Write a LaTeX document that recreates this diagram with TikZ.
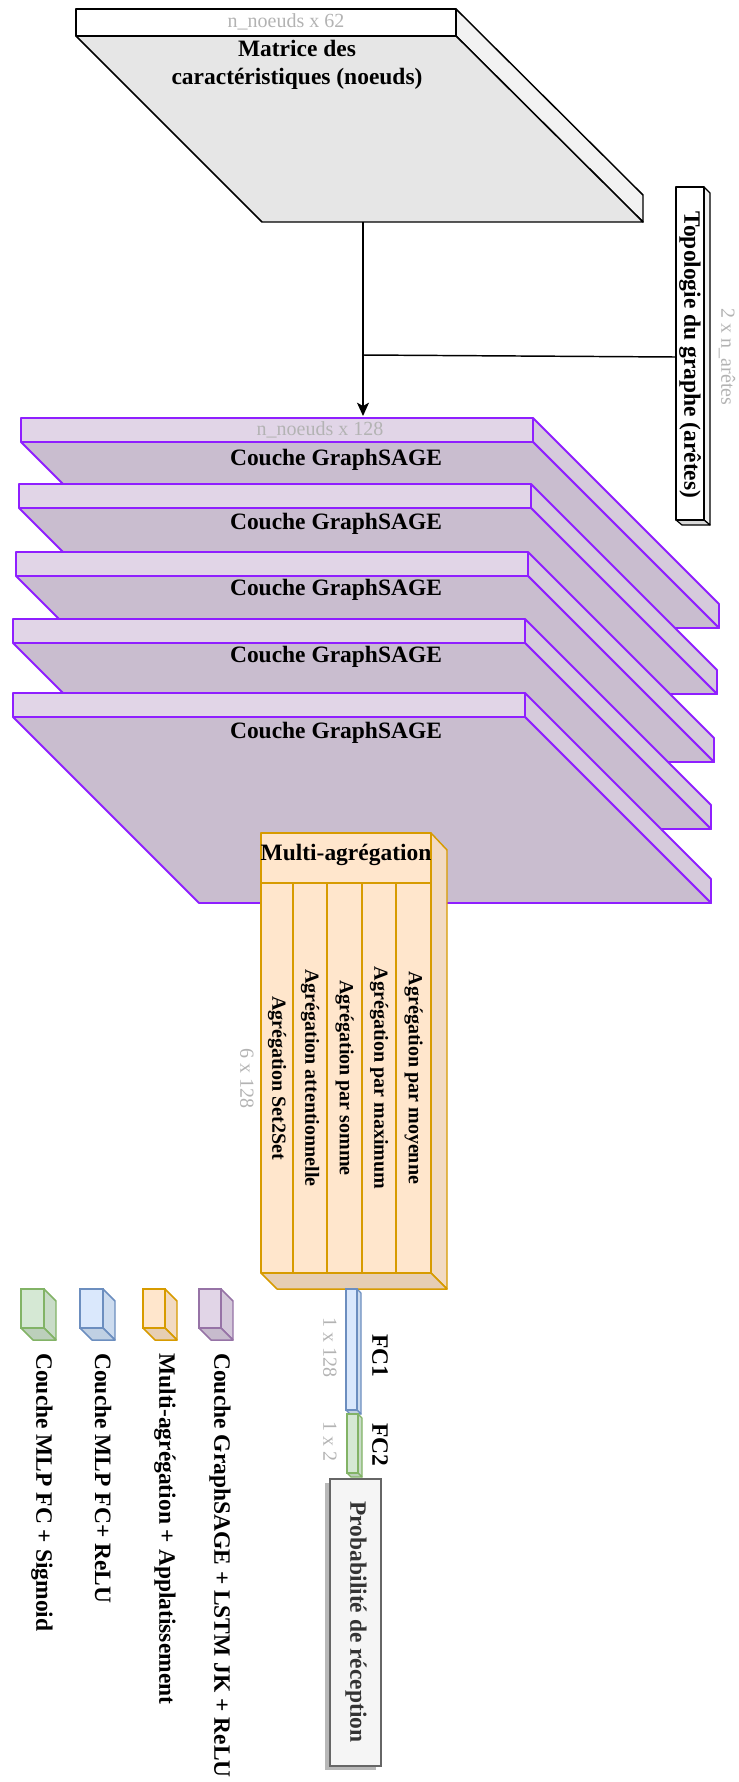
\documentclass[tikz,border=0pt]{standalone}
\usepackage{fontspec}
\setmainfont{Liberation Serif}
\usetikzlibrary{arrows.meta}
\definecolor{lbl}{HTML}{B3B3B3}
\definecolor{matF}{HTML}{E6E6E6}
\definecolor{matS}{HTML}{F2F2F2}
\definecolor{matB}{HTML}{D9D9D9}
\definecolor{gsT}{HTML}{E1D5E7}
\definecolor{gsF}{HTML}{C9BDCF}
\definecolor{gsS}{HTML}{D6CADC}
\definecolor{gsD}{HTML}{8F1FFF}
\definecolor{purF}{HTML}{E1D5E7}
\definecolor{purS}{HTML}{D4C8DA}
\definecolor{purB}{HTML}{C7BBCD}
\definecolor{purD}{HTML}{9673A6}
\definecolor{orF}{HTML}{FFE6CC}
\definecolor{orS}{HTML}{F2DAC2}
\definecolor{orB}{HTML}{E6CEB4}
\definecolor{orD}{HTML}{D79B00}
\definecolor{blF}{HTML}{DAE8FC}
\definecolor{blS}{HTML}{CDDCEF}
\definecolor{blB}{HTML}{C0D0E3}
\definecolor{blD}{HTML}{6C8EBF}
\definecolor{grF}{HTML}{D5E8D4}
\definecolor{grS}{HTML}{C9DCC8}
\definecolor{grB}{HTML}{BCCFBB}
\definecolor{grD}{HTML}{82B366}
\definecolor{prF}{HTML}{F5F5F5}
\definecolor{prD}{HTML}{666666}
\definecolor{prT}{HTML}{333333}
% #1 x, #2 y, #3 w, #4 h, #5 dx, #6 dy, #7 colour prefix, #8 line width
\newcommand{\isobox}[8]{%
  \filldraw[draw=#7D, fill=#7S, line width=#8, line join=round] (#1+#3,#2) -- (#1+#3+#5,#2+#6) -- (#1+#3+#5,#2+#4+#6) -- (#1+#3,#2+#4) -- cycle;
  \filldraw[draw=#7D, fill=#7B, line width=#8, line join=round] (#1,#2+#4) -- (#1+#3,#2+#4) -- (#1+#3+#5,#2+#4+#6) -- (#1+#5,#2+#4+#6) -- cycle;
  \filldraw[draw=#7D, fill=#7F, line width=#8] (#1,#2) rectangle ++(#3,#4);
}
% GraphSAGE layer slab: #1 x, #2 y (top-left of the top strip)
\newcommand{\gslayer}[2]{%
  \filldraw[gsline, fill=gsS] (#1+512,#2) -- (#1+698,#2+186) -- (#1+698,#2+210) -- (#1+512,#2+24) -- cycle;
  \filldraw[gsline, fill=gsF] (#1,#2+24) -- (#1+512,#2+24) -- (#1+698,#2+210) -- (#1+186,#2+210) -- cycle;
  \filldraw[gsline, fill=gsT] (#1,#2) rectangle ++(512,24);
}
\begin{document}
\begin{tikzpicture}[x=0.75pt,y=-0.75pt,
  mline/.style={draw=black, line width=1.1pt, line join=round},
  gsline/.style={draw=gsD, line width=1.4pt, line join=round},
  orline/.style={draw=orD, line width=1.1pt, line join=round},
  big/.style={font=\fontsize{17.6pt}{21pt}\selectfont\bfseries, inner sep=0pt},
  colt/.style={font=\fontsize{15pt}{18pt}\selectfont\bfseries, inner sep=0pt, rotate=-90},
  small/.style={font=\fontsize{15pt}{18pt}\selectfont, text=lbl, inner sep=0pt},
  legtxt/.style={big, rotate=-90, anchor=west},
  conn/.style={draw=black, line width=1.1pt}]
\useasboundingbox (0,0) rectangle (739,1782);

% ---------- feature matrix ----------
\filldraw[mline, fill=matS] (456,9) -- (643,195) -- (643,222) -- (456,36) -- cycle;
\filldraw[mline, fill=matF] (76,36) -- (456,36) -- (643,222) -- (262,222) -- cycle;
\filldraw[mline, fill=white] (76,9) rectangle (456,36);
\node[small] (matdim) at (286,22) {n\_noeuds x 62};
\node[big, align=center] (mattxt) at (297,65) {Matrice des\\caractéristiques (noeuds)};

% ---------- topology box ----------
\filldraw[mline, line width=0.9pt, fill=matS] (704,187) -- (710,193) -- (710,525) -- (704,520) -- cycle;
\filldraw[mline, line width=0.9pt, fill=matB] (676,520) -- (704,520) -- (710,525) -- (682,525) -- cycle;
\filldraw[mline, fill=white] (676,187) rectangle (704,520);
\node[big, rotate=-90] (topo) at (690,355) {Topologie du graphe (arêtes)};
\node[small, rotate=-90] (topodim) at (727,357) {2 x n\_arêtes};

% ---------- connectors ----------
\coordinate (matbot) at (363,222);
\coordinate (l1top) at (363,416);
\coordinate (junc) at (363,355);
\coordinate (topoW) at (676,357);
\draw[conn, -{Stealth[length=10pt, width=9pt, inset=2.5pt]}] (matbot) -- (l1top);
\draw[conn] (topoW) -- (junc);

% ---------- GraphSAGE layers ----------
\gslayer{21}{418}
\node[small] (gsdim) at (320,430) {n\_noeuds x 128};
\node[big] (gs1) at (336,460) {Couche GraphSAGE};
\gslayer{19}{484}
\node[big] (gs2) at (336,524) {Couche GraphSAGE};
\gslayer{16}{552}
\node[big] (gs3) at (336,590) {Couche GraphSAGE};
\gslayer{13}{619}
\node[big] (gs4) at (336,657) {Couche GraphSAGE};
\gslayer{13}{693}
\node[big] (gs5) at (336,733) {Couche GraphSAGE};

% ---------- multi-aggregation ----------
\filldraw[orline, fill=orS] (431,833) -- (447,850) -- (447,1289) -- (431,1273) -- cycle;
\filldraw[orline, fill=orB] (261,1273) -- (431,1273) -- (447,1289) -- (277,1289) -- cycle;
\filldraw[orline, fill=orF] (261,833) rectangle (431,1273);
\draw[orline] (261,883) -- (431,883);
\foreach \xx in {293,327,362,396} {\draw[orline] (\xx,883) -- (\xx,1273);}
\node[big] (magg) at (346,855) {Multi-agrégation};
\node[colt] (c1) at (277,1078) {Agrégation Set2Set};
\node[colt] (c2) at (310,1078) {Agrégation attentionnelle};
\node[colt] (c3) at (344.5,1078) {Agrégation par somme};
\node[colt] (c4) at (379,1078) {Agrégation par maximum};
\node[colt] (c5) at (413.5,1078) {Agrégation par moyenne};
\node[small, rotate=-90] (maggdim) at (247,1078) {6 x 128};

% ---------- FC layers ----------
\isobox{346}{1289}{11}{121}{4}{4}{bl}{0.9pt}
\isobox{347}{1414}{11}{59}{4}{4}{gr}{0.9pt}
\node[small, rotate=-90] (fc1dim) at (330,1347) {1 x 128};
\node[small, rotate=-90] (fc2dim) at (330,1441) {1 x 2};
\node[big, rotate=-90] (fc1) at (380,1356) {FC1};
\node[big, rotate=-90] (fc2) at (380,1445) {FC2};

% ---------- output ----------
\fill[black!28] (325,1483) rectangle (376,1770);
\filldraw[draw=prD, fill=prF, line width=1.1pt] (330,1479) rectangle (381,1766);
\node[big, rotate=-90, text=prT] (proba) at (356,1622) {Probabilité de réception};

% ---------- legend ----------
\isobox{199}{1289}{22}{39}{12}{12}{pur}{1.1pt}
\isobox{143}{1289}{22}{39}{12}{12}{or}{1.1pt}
\isobox{80}{1289}{23}{39}{12}{12}{bl}{1.1pt}
\isobox{21}{1289}{23}{39}{12}{12}{gr}{1.1pt}
\node[legtxt] (leg1) at (220,1353) {Couche GraphSAGE + LSTM JK + ReLU};
\node[legtxt] (leg2) at (165,1353) {Multi-agrégation + Applatissement};
\node[legtxt] (leg3) at (103,1353) {Couche MLP FC+ ReLU};
\node[legtxt] (leg4) at (42,1353) {Couche MLP FC + Sigmoid};
\end{tikzpicture}
\end{document}
